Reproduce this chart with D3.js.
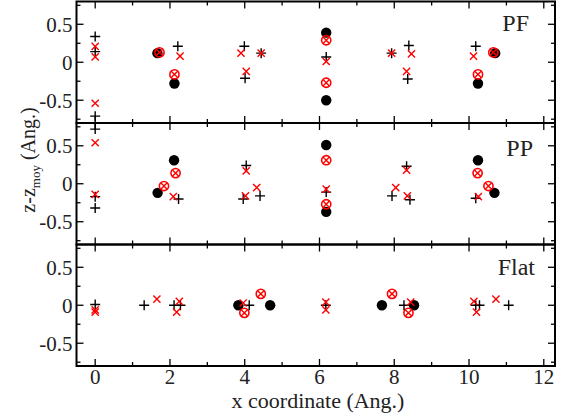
<!DOCTYPE html>
<html><head><meta charset="utf-8">
<script src="https://cdn.jsdelivr.net/npm/d3@7"></script>
<style>body{margin:0;background:#fff}svg{display:block}</style>
</head><body>
<script>
// ---- data ----
const panelNames = ["PF", "PP", "Flat"];
const xTicks = [0, 2, 4, 6, 8, 10, 12];
const yTicks = [-0.5, 0, 0.5];

const pfPlus = [[0,0.34],[0,0.14],[0,-0.71],[2.21,0.21],[3.99,0.21],[4.01,-0.21],[4.44,0.12],[6.18,0.07],[7.93,0.12],[8.39,0.22],[8.36,-0.22],[10.18,0.21]];
const pfCross = [[0,0.21],[0,0.07],[0,-0.54],[2.27,0.08],[3.9,0.12],[4.04,-0.12],[4.44,0.12],[6.18,0.01],[7.93,0.12],[8.46,0.11],[8.33,-0.12],[10.12,0.08]];
const pfDot = [[1.665,0.12],[2.12,-0.28],[6.18,0.39],[6.18,-0.5],[10.24,-0.28],[10.7,0.12]];
const pfOtimes = [[1.72,0.13],[2.12,-0.16],[6.18,0.29],[6.18,-0.27],[10.24,-0.16],[10.65,0.13]];

const ppPlus = [[0,0.72],[0,-0.17],[0,-0.32],[2.23,-0.2],[4.04,0.24],[4.41,-0.16],[3.96,-0.2],[6.18,-0.11],[7.94,-0.16],[8.33,0.23],[8.42,-0.21],[10.18,-0.19]];
const ppCross = [[0,0.54],[0,-0.14],[2.09,-0.17],[4.04,0.17],[4.32,-0.05],[4.02,-0.16],[6.18,-0.07],[8.04,-0.05],[8.33,0.18],[8.35,-0.16],[10.25,-0.17]];
const ppDot = [[1.67,-0.12],[2.11,0.31],[6.18,0.51],[6.18,-0.37],[10.24,0.31],[10.68,-0.12]];
const ppOtimes = [[1.84,-0.03],[2.15,0.14],[6.18,0.31],[6.18,-0.27],[10.23,0.14],[10.52,-0.03]];

const flatPlus = [[0,0.01],[1.31,0],[2.11,0],[2.28,0],[4.12,0],[6.17,0],[8.26,0],[10.18,0],[10.28,0],[11.06,0]];
const flatCross = [[0,-0.06],[0,-0.09],[1.65,0.08],[2.25,0.05],[2.18,-0.09],[3.96,0.03],[6.17,0.04],[6.17,-0.06],[8.44,0.04],[10.13,0.05],[10.2,-0.09],[10.72,0.08]];
const flatDot = [[3.83,0],[4.68,0],[7.67,0],[8.53,0]];
const flatOtimes = [[3.99,-0.1],[4.43,0.15],[7.94,0.15],[8.38,-0.1]];

const panels = [
  {name: panelNames[0], plus: pfPlus, cross: pfCross, dot: pfDot, otimes: pfOtimes},
  {name: panelNames[1], plus: ppPlus, cross: ppCross, dot: ppDot, otimes: ppOtimes},
  {name: panelNames[2], plus: flatPlus, cross: flatCross, dot: flatDot, otimes: flatOtimes}
];

// ---- layout ----
const W = 566, H = 418;
const left = 76.5, right = 555;
const tops = [1.5, 123, 244.5], ph = 121.5;
const font = "'Liberation Serif','DejaVu Serif',serif";
const txt = "#222";

const svg = d3.select("body").append("svg").attr("width", W).attr("height", H);
const x = d3.scaleLinear().domain([-0.5, 12.3]).range([left, right]);

panels.forEach((p, i) => {
  const top = tops[i], bot = top + ph;
  const y = d3.scaleLinear().domain([-0.8, 0.8]).range([bot, top]);
  const g = svg.append("g");

  const xMinor = [1, 3, 5, 7, 9, 11];
  const yMinor = [-0.75, -0.25, 0.25, 0.75];
  const tk = g.append("g").attr("stroke", "#000").attr("stroke-width", 1.3);
  xTicks.forEach(v => {
    tk.append("line").attr("x1", x(v)).attr("x2", x(v)).attr("y1", bot).attr("y2", bot - 7);
    tk.append("line").attr("x1", x(v)).attr("x2", x(v)).attr("y1", top).attr("y2", top + 7);
  });
  xMinor.forEach(v => {
    tk.append("line").attr("x1", x(v)).attr("x2", x(v)).attr("y1", bot).attr("y2", bot - 4);
    tk.append("line").attr("x1", x(v)).attr("x2", x(v)).attr("y1", top).attr("y2", top + 4);
  });
  yTicks.forEach(v => {
    tk.append("line").attr("x1", left).attr("x2", left + 7).attr("y1", y(v)).attr("y2", y(v));
    tk.append("line").attr("x1", right).attr("x2", right - 7).attr("y1", y(v)).attr("y2", y(v));
  });
  yMinor.forEach(v => {
    tk.append("line").attr("x1", left).attr("x2", left + 4).attr("y1", y(v)).attr("y2", y(v));
    tk.append("line").attr("x1", right).attr("x2", right - 4).attr("y1", y(v)).attr("y2", y(v));
  });

  yTicks.forEach(v => {
    g.append("text").attr("x", left - 4).attr("y", y(v)).attr("dy", "0.35em")
      .attr("text-anchor", "end").attr("font-family", font).attr("font-size", 21)
      .attr("fill", txt).text(v === 0 ? "0" : String(v));
  });

  g.append("rect").attr("x", left).attr("y", top).attr("width", right - left).attr("height", ph)
    .attr("fill", "none").attr("stroke", "#000").attr("stroke-width", 2);

  g.selectAll(".dot").data(p.dot).join("circle")
    .attr("cx", d => x(d[0])).attr("cy", d => y(d[1])).attr("r", 5.2).attr("fill", "#000");
  const ot = g.selectAll(".ot").data(p.otimes).join("g")
    .attr("transform", d => `translate(${x(d[0])},${y(d[1])})`);
  ot.append("circle").attr("r", 4.6).attr("fill", "none")
    .attr("stroke", "#f00").attr("stroke-width", 1.6);
  ot.append("path").attr("d", "M-3.2,-3.2L3.2,3.2M-3.2,3.2L3.2,-3.2")
    .attr("stroke", "#f00").attr("stroke-width", 1.4);
  g.selectAll(".pl").data(p.plus).join("path")
    .attr("transform", d => `translate(${x(d[0])},${y(d[1])})`)
    .attr("d", "M-5,0H5M0,-5V5").attr("stroke", "#000").attr("stroke-width", 1.4).attr("fill", "none");
  g.selectAll(".cr").data(p.cross).join("path")
    .attr("transform", d => `translate(${x(d[0])},${y(d[1])})`)
    .attr("d", "M-3.6,-3.6L3.6,3.6M-3.6,3.6L3.6,-3.6").attr("stroke", "#f00").attr("stroke-width", 1.4).attr("fill", "none");

  g.append("text").attr("x", right - [26, 22, 20][i]).attr("y", top + [29, 33, 30][i])
    .attr("text-anchor", "end").attr("font-family", font).attr("font-size", 24)
    .attr("fill", txt).text(p.name);
});

const botY = tops[2] + ph;
xTicks.forEach(v => {
  svg.append("text").attr("x", x(v)).attr("y", botY + 18).attr("text-anchor", "middle")
    .attr("font-family", font).attr("font-size", 21).attr("fill", txt).text(v);
});
svg.append("text").attr("x", 318).attr("y", 408).attr("text-anchor", "middle")
  .attr("font-family", font).attr("font-size", 22).attr("fill", txt).text("x coordinate (Ang.)");

const yl = svg.append("text").attr("transform", "translate(35,160) rotate(-90)")
  .attr("text-anchor", "middle").attr("font-family", font).attr("font-size", 20).attr("fill", txt);
yl.append("tspan").text("z-z");
yl.append("tspan").attr("font-size", 13).attr("dy", 5).text("moy");
yl.append("tspan").attr("dy", -5).text(" (Ang.)");
</script>
</body></html>
